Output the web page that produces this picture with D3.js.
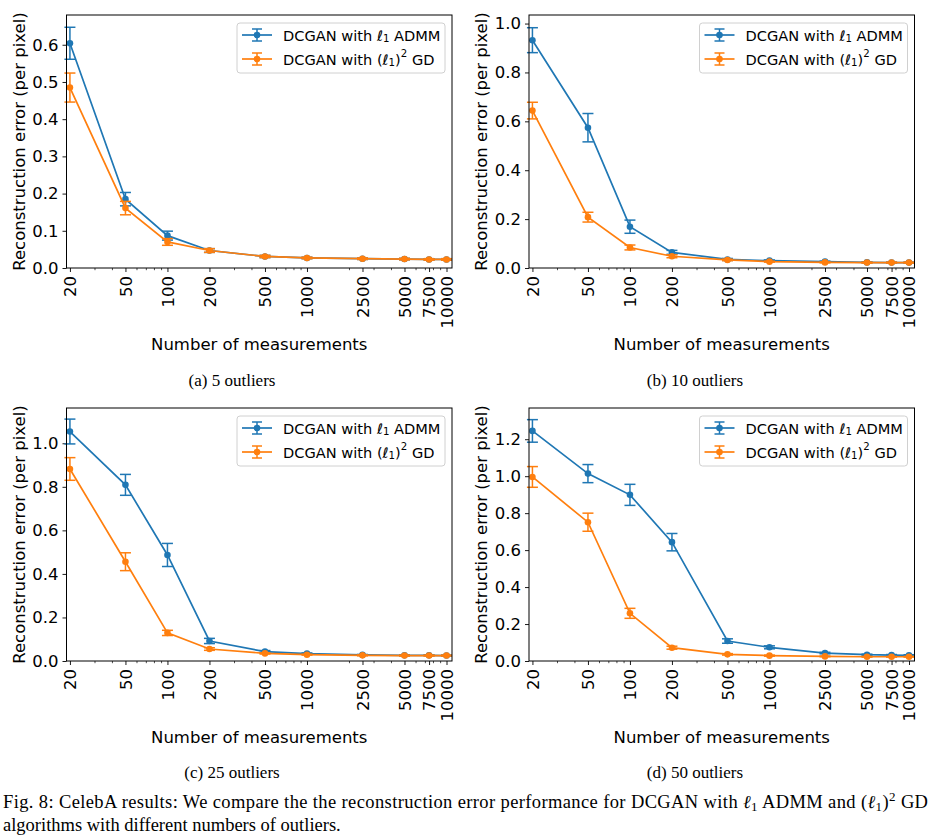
<!DOCTYPE html>
<html>
<head>
<meta charset="utf-8">
<script src="https://cdn.jsdelivr.net/npm/d3@7"></script>
<style>
  body { margin: 0; background: #fff; }
  svg { display: block; }
</style>
</head>
<body>
<script>
// measurements on the x axis (log scale)
const xVals = [20, 50, 100, 200, 500, 1000, 2500, 5000, 7500, 10000];
const xTickLabels = ["20", "50", "100", "200", "500", "1000", "2500", "5000", "7500", "10000"];

// (a) 5 outliers
const admm5 = [0.604, 0.185, 0.087, 0.047, 0.031, 0.027, 0.025, 0.024, 0.023, 0.023];
const admm5Err = [0.043, 0.018, 0.012, 0.005, 0.003, 0.002, 0.002, 0.002, 0.002, 0.002];
const gd5 = [0.485, 0.161, 0.070, 0.047, 0.031, 0.027, 0.025, 0.024, 0.023, 0.023];
const gd5Err = [0.039, 0.018, 0.009, 0.005, 0.003, 0.002, 0.002, 0.002, 0.002, 0.002];

// (b) 10 outliers
const admm10 = [0.932, 0.574, 0.169, 0.064, 0.035, 0.030, 0.026, 0.023, 0.022, 0.022];
const admm10Err = [0.051, 0.058, 0.027, 0.008, 0.004, 0.003, 0.002, 0.002, 0.002, 0.002];
const gd10 = [0.644, 0.208, 0.084, 0.048, 0.033, 0.026, 0.023, 0.022, 0.022, 0.022];
const gd10Err = [0.034, 0.020, 0.010, 0.006, 0.003, 0.002, 0.002, 0.002, 0.002, 0.002];

// (c) 25 outliers
const admm25 = [1.054, 0.809, 0.487, 0.092, 0.043, 0.034, 0.028, 0.026, 0.026, 0.025];
const admm25Err = [0.057, 0.048, 0.053, 0.012, 0.005, 0.003, 0.002, 0.002, 0.002, 0.002];
const gd25 = [0.882, 0.456, 0.129, 0.055, 0.035, 0.029, 0.026, 0.025, 0.025, 0.025];
const gd25Err = [0.052, 0.041, 0.012, 0.006, 0.003, 0.002, 0.002, 0.002, 0.002, 0.002];

// (d) 50 outliers
const admm50 = [1.245, 1.014, 0.899, 0.643, 0.108, 0.074, 0.043, 0.034, 0.032, 0.031];
const admm50Err = [0.061, 0.049, 0.057, 0.047, 0.012, 0.008, 0.004, 0.003, 0.003, 0.003];
const gd50 = [0.996, 0.751, 0.258, 0.072, 0.036, 0.029, 0.025, 0.023, 0.023, 0.023];
const gd50Err = [0.056, 0.049, 0.027, 0.008, 0.004, 0.003, 0.002, 0.002, 0.002, 0.002];

const yTicksA = [0, 0.1, 0.2, 0.3, 0.4, 0.5, 0.6];
const yTicksB = [0, 0.2, 0.4, 0.6, 0.8, 1.0];
const yTicksC = [0, 0.2, 0.4, 0.6, 0.8, 1.0];
const yTicksD = [0, 0.2, 0.4, 0.6, 0.8, 1.0, 1.2];

const subCaptions = ["(a) 5 outliers", "(b) 10 outliers", "(c) 25 outliers", "(d) 50 outliers"];

const blue = "#1f77b4";
const orange = "#ff7f0e";
const sans = "'DejaVu Sans', sans-serif";
const serif = "'Liberation Serif', 'Times New Roman', serif";

const W = 931, H = 840;
const svg = d3.select("body").append("svg").attr("width", W).attr("height", H);

// panel boxes, in page pixels
const panels = [
  { left: 66.5, right: 452, top: 15, bottom: 268, yMax: 0.68, ticks: yTicksA, fmt: d3.format(".1f"),
    series: [[admm5, admm5Err], [gd5, gd5Err]], cap: subCaptions[0], capX: 232, capY: 380 },
  { left: 529, right: 914.5, top: 15, bottom: 268, yMax: 1.035, ticks: yTicksB, fmt: d3.format(".1f"),
    series: [[admm10, admm10Err], [gd10, gd10Err]], cap: subCaptions[1], capX: 695, capY: 380 },
  { left: 66.5, right: 452, top: 408, bottom: 661, yMax: 1.162, ticks: yTicksC, fmt: d3.format(".1f"),
    series: [[admm25, admm25Err], [gd25, gd25Err]], cap: subCaptions[2], capX: 232, capY: 772 },
  { left: 529, right: 914.5, top: 408, bottom: 661, yMax: 1.369, ticks: yTicksD, fmt: d3.format(".1f"),
    series: [[admm50, admm50Err], [gd50, gd50Err]], cap: subCaptions[3], capX: 695, capY: 772 }
];

// minor log ticks (2..9 times each decade), dropping the ones that sit on a labelled tick
function minorTicks() {
  const out = [];
  [10, 100, 1000].forEach(dec => {
    for (let k = 2; k <= 9; k++) {
      const v = k * dec;
      if (v > 19 && v < 10500 && !xVals.includes(v)) out.push(v);
    }
  });
  return out;
}
const minors = minorTicks();

function drawLegendText(sel, x, y, which) {
  const t = sel.append("text")
    .attr("x", x).attr("y", y)
    .attr("dominant-baseline", "central")
    .attr("font-family", sans).attr("font-size", 14.6).attr("fill", "#000");
  if (which === 0) {
    t.append("tspan").text("DCGAN with ");
    t.append("tspan").attr("font-style", "italic").text("ℓ");
    t.append("tspan").attr("font-size", 10.2).attr("dy", 3).text("1");
    t.append("tspan").attr("dy", -3).text(" ADMM");
  } else {
    t.append("tspan").text("DCGAN with (");
    t.append("tspan").attr("font-style", "italic").text("ℓ");
    t.append("tspan").attr("font-size", 10.2).attr("dy", 3).text("1");
    t.append("tspan").attr("dy", -3).text(")");
    t.append("tspan").attr("font-size", 10.2).attr("dy", -6).text("2");
    t.append("tspan").attr("dy", 6).text(" GD");
  }
}

panels.forEach(p => {
  const g = svg.append("g");
  const x = d3.scaleLog().domain([18.9, 10950]).range([p.left, p.right]);
  const y = d3.scaleLinear().domain([0, p.yMax]).range([p.bottom, p.top]);

  // x axis: labelled major ticks, rotated labels
  const xAxis = d3.axisBottom(x).tickValues(xVals).tickFormat((d, i) => xTickLabels[i])
    .tickSizeInner(4).tickSizeOuter(0).tickPadding(4);
  const gx = g.append("g").attr("transform", `translate(0,${p.bottom})`).call(xAxis);
  gx.select(".domain").remove();
  gx.selectAll("line").attr("stroke", "#000").attr("stroke-width", 0.9);
  gx.selectAll("text")
    .attr("font-family", sans).attr("font-size", 16.5).attr("fill", "#000")
    .attr("transform", "rotate(-90)")
    .attr("text-anchor", "end")
    .attr("x", -8).attr("y", 0).attr("dy", "0.35em");

  // minor ticks
  const xMinor = d3.axisBottom(x).tickValues(minors).tickFormat("").tickSizeInner(2.2).tickSizeOuter(0);
  const gm = g.append("g").attr("transform", `translate(0,${p.bottom})`).call(xMinor);
  gm.select(".domain").remove();
  gm.selectAll("line").attr("stroke", "#000").attr("stroke-width", 0.7);

  // y axis
  const yAxis = d3.axisLeft(y).tickValues(p.ticks).tickFormat(p.fmt)
    .tickSizeInner(4).tickSizeOuter(0).tickPadding(4);
  const gy = g.append("g").attr("transform", `translate(${p.left},0)`).call(yAxis);
  gy.select(".domain").remove();
  gy.selectAll("line").attr("stroke", "#000").attr("stroke-width", 0.9);
  gy.selectAll("text").attr("font-family", sans).attr("font-size", 16.5).attr("fill", "#000");

  // axis labels
  g.append("text")
    .attr("x", (p.left + p.right) / 2).attr("y", p.bottom + 82)
    .attr("text-anchor", "middle")
    .attr("font-family", sans).attr("font-size", 16.5).attr("fill", "#000")
    .text("Number of measurements");
  g.append("text")
    .attr("transform", `translate(${p.left - 42},${(p.top + p.bottom) / 2}) rotate(-90)`)
    .attr("text-anchor", "middle")
    .attr("font-family", sans).attr("font-size", 16.5).attr("fill", "#000")
    .text("Reconstruction error (per pixel)");

  // series with error bars
  const colors = [blue, orange];
  const plot = g.append("g");
  p.series.forEach(([vals, errs], si) => {
    const c = colors[si];
    const pts = xVals.map((xv, i) => ({ x: xv, y: vals[i], e: errs[i] }));
    const sg = plot.append("g");
    sg.append("path")
      .datum(pts)
      .attr("fill", "none").attr("stroke", c).attr("stroke-width", 1.7)
      .attr("d", d3.line().x(d => x(d.x)).y(d => y(d.y)));
    sg.selectAll("line.bar").data(pts).join("line")
      .attr("class", "bar")
      .attr("x1", d => x(d.x)).attr("x2", d => x(d.x))
      .attr("y1", d => y(d.y - d.e)).attr("y2", d => y(d.y + d.e))
      .attr("stroke", c).attr("stroke-width", 1.5);
    [-1, 1].forEach(s => {
      sg.selectAll(`line.cap${s}`).data(pts).join("line")
        .attr("class", `cap${s}`)
        .attr("x1", d => x(d.x) - 5.5).attr("x2", d => x(d.x) + 5.5)
        .attr("y1", d => y(d.y + s * d.e)).attr("y2", d => y(d.y + s * d.e))
        .attr("stroke", c).attr("stroke-width", 1.5);
    });
    sg.selectAll("circle").data(pts).join("circle")
      .attr("cx", d => x(d.x)).attr("cy", d => y(d.y)).attr("r", 3.3)
      .attr("fill", c);
  });

  // frame
  g.append("rect")
    .attr("x", p.left).attr("y", p.top)
    .attr("width", p.right - p.left).attr("height", p.bottom - p.top)
    .attr("fill", "none").attr("stroke", "#000").attr("stroke-width", 1);

  // legend
  const lx = p.right - 215, ly = p.top + 8;
  const lg = g.append("g");
  lg.append("rect")
    .attr("x", lx).attr("y", ly).attr("width", 208).attr("height", 50).attr("rx", 3)
    .attr("fill", "#fff").attr("fill-opacity", 0.8)
    .attr("stroke", "#d0d0d0").attr("stroke-width", 1);
  colors.forEach((c, i) => {
    const ry = ly + 12 + i * 24;
    const hx = lx + 20;
    lg.append("line").attr("x1", lx + 5).attr("x2", lx + 35).attr("y1", ry).attr("y2", ry)
      .attr("stroke", c).attr("stroke-width", 1.7);
    lg.append("line").attr("x1", hx).attr("x2", hx).attr("y1", ry - 6).attr("y2", ry + 6)
      .attr("stroke", c).attr("stroke-width", 1.5);
    [-6, 6].forEach(dy => {
      lg.append("line").attr("x1", hx - 5).attr("x2", hx + 5).attr("y1", ry + dy).attr("y2", ry + dy)
        .attr("stroke", c).attr("stroke-width", 1.5);
    });
    lg.append("circle").attr("cx", hx).attr("cy", ry).attr("r", 3.3).attr("fill", c);
    drawLegendText(lg, lx + 46, ry, i);
  });

  // sub caption
  svg.append("text")
    .attr("x", p.capX).attr("y", p.capY)
    .attr("text-anchor", "middle").attr("dominant-baseline", "central")
    .attr("font-family", serif).attr("font-size", 17).attr("fill", "#000")
    .text(p.cap);
});

// figure caption
const cap1 = svg.append("text")
  .attr("x", 3).attr("y", 808)
  .attr("font-family", serif).attr("font-size", 18.5).attr("fill", "#000")
  .attr("textLength", 925).attr("lengthAdjust", "spacing");
cap1.append("tspan").text("Fig. 8: CelebA results: We compare the the reconstruction error performance for DCGAN with ");
cap1.append("tspan").attr("font-style", "italic").text("ℓ");
cap1.append("tspan").attr("font-size", 13).attr("dy", 3).text("1");
cap1.append("tspan").attr("dy", -3).text(" ADMM and (");
cap1.append("tspan").attr("font-style", "italic").text("ℓ");
cap1.append("tspan").attr("font-size", 13).attr("dy", 3).text("1");
cap1.append("tspan").attr("dy", -3).text(")");
cap1.append("tspan").attr("font-size", 13).attr("dy", -7).text("2");
cap1.append("tspan").attr("dy", 7).text(" GD");

svg.append("text")
  .attr("x", 3).attr("y", 831)
  .attr("font-family", serif).attr("font-size", 18.5).attr("fill", "#000")
  .text("algorithms with different numbers of outliers.");
</script>
</body>
</html>
